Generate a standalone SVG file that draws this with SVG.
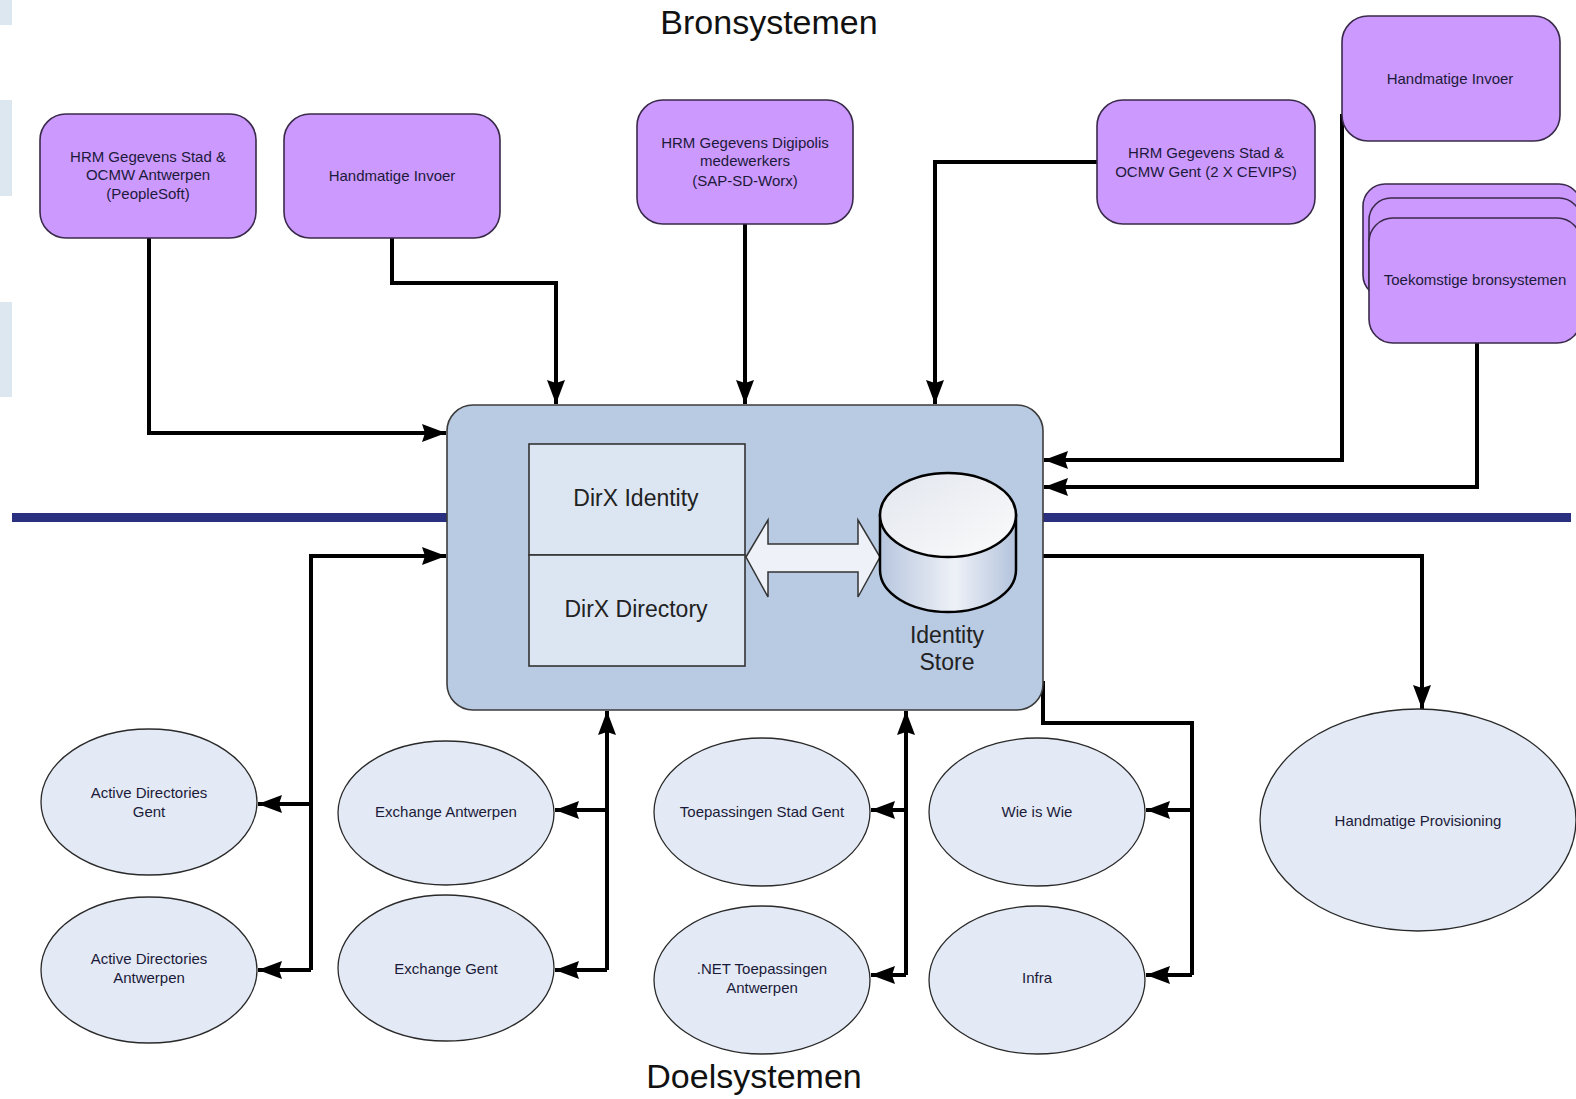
<svg xmlns="http://www.w3.org/2000/svg" width="1576" height="1099" viewBox="0 0 1576 1099">
<style>
.src{fill:#cc99ff;stroke:#3a2a4a;stroke-width:1.6}
.tgt{fill:#e3eaf5;stroke:#2a2a2a;stroke-width:1.3}
.lbl{font-family:"Liberation Sans",Arial,sans-serif;font-size:15px;fill:#1c1a3a;text-anchor:middle;dominant-baseline:central}
.big{font-family:"Liberation Sans",Arial,sans-serif;font-size:23px;fill:#222;text-anchor:middle;dominant-baseline:central}
.title{font-family:"Liberation Sans",Arial,sans-serif;font-size:34px;fill:#111;text-anchor:middle;dominant-baseline:central}
.conn{fill:none;stroke:#000;stroke-width:4;marker-end:url(#ah)}
.line{fill:none;stroke:#000;stroke-width:4}
</style>
<defs>
<marker id="ah" markerUnits="userSpaceOnUse" markerWidth="26" markerHeight="20" refX="24" refY="9" orient="auto">
<path d="M0,0 L24,9 L0,18 L3,9 z" fill="#000"/>
</marker>
<linearGradient id="cylBody" x1="0" y1="0" x2="1" y2="0">
<stop offset="0" stop-color="#b7c6de"/>
<stop offset="0.55" stop-color="#eef1f7"/>
<stop offset="1" stop-color="#b3c3dc"/>
</linearGradient>
<linearGradient id="cylTop" x1="0" y1="0" x2="1" y2="1">
<stop offset="0" stop-color="#e2e6ee"/>
<stop offset="1" stop-color="#fbfbfb"/>
</linearGradient>
</defs>
<rect width="1576" height="1099" fill="#ffffff"/>
<g id="deco">
<rect x="0" y="0" width="12" height="25" fill="#dde7f0"/>
<rect x="0" y="100" width="12" height="96" fill="#dde7f0"/>
<rect x="0" y="302" width="12" height="95" fill="#dde7f0"/>
<rect x="12" y="513" width="437" height="9" fill="#2b2f80"/>
<rect x="1041" y="513" width="530" height="9" fill="#2b2f80"/>
</g>
<text class="title" x="769" y="22">Bronsystemen</text>
<text class="title" x="754" y="1076">Doelsystemen</text>

<g id="connectors">
<path class="conn" d="M149,238 V433 H446"/>
<path class="conn" d="M392,238 V283 H556 V404"/>
<path class="conn" d="M745,224 V404"/>
<path class="conn" d="M1097,162 H935 V404"/>
<path class="conn" d="M1342,114 V460 H1044"/>
<path class="conn" d="M1477,343 V487 H1044"/>
<path class="conn" d="M311,970 V556 H446"/>
<path class="conn" d="M311,804 H258"/>
<path class="conn" d="M311,970 H258"/>
<path class="conn" d="M607,970 V711"/>
<path class="conn" d="M607,810 H555"/>
<path class="conn" d="M607,970 H555"/>
<path class="conn" d="M906,975 V711"/>
<path class="conn" d="M906,810 H871"/>
<path class="conn" d="M906,975 H871"/>
<path class="line" d="M1043,681 V723 H1192 V975"/>
<path class="conn" d="M1192,810 H1146"/>
<path class="conn" d="M1192,975 H1146"/>
<path class="conn" d="M1043,556 H1422 V709"/>
</g>

<g id="n-hrm-antwerpen">
<rect class="src" x="40" y="114" width="216" height="124" rx="26"/>
<text class="lbl" x="148" y="156">HRM Gegevens Stad &amp;</text>
<text class="lbl" x="148" y="174">OCMW Antwerpen</text>
<text class="lbl" x="148" y="193">(PeopleSoft)</text>
</g>
<g id="n-handmatige-invoer-1">
<rect class="src" x="284" y="114" width="216" height="124" rx="26"/>
<text class="lbl" x="392" y="175">Handmatige Invoer</text>
</g>
<g id="n-hrm-digipolis">
<rect class="src" x="637" y="100" width="216" height="124" rx="26"/>
<text class="lbl" x="745" y="142">HRM Gegevens Digipolis</text>
<text class="lbl" x="745" y="160">medewerkers</text>
<text class="lbl" x="745" y="180">(SAP-SD-Worx)</text>
</g>
<g id="n-hrm-gent">
<rect class="src" x="1097" y="100" width="218" height="124" rx="26"/>
<text class="lbl" x="1206" y="152">HRM Gegevens Stad &amp;</text>
<text class="lbl" x="1206" y="171">OCMW Gent (2 X CEVIPS)</text>
</g>
<g id="n-handmatige-invoer-2">
<rect class="src" x="1342" y="16" width="218" height="125" rx="26"/>
<text class="lbl" x="1450" y="78">Handmatige Invoer</text>
</g>
<g id="n-toekomstige">
<rect class="src" x="1363" y="184" width="218" height="113" rx="22"/>
<rect class="src" x="1369" y="198" width="212" height="110" rx="22"/>
<rect class="src" x="1369" y="218" width="212" height="125" rx="24"/>
<text class="lbl" x="1475" y="279">Toekomstige bronsystemen</text>
</g>

<g id="n-dirx">
<rect x="447" y="405" width="596" height="305" rx="26" fill="#b9cbe3" stroke="#3c3c3c" stroke-width="1.6"/>
<rect x="529" y="444" width="216" height="111" fill="#dce6f2" stroke="#333" stroke-width="1.6"/>
<rect x="529" y="555" width="216" height="111" fill="#dce6f2" stroke="#333" stroke-width="1.6"/>
<text class="big" x="636" y="498">DirX Identity</text>
<text class="big" x="636" y="609">DirX Directory</text>
<path d="M746,557 L768,520 L768,544 L858,544 L858,520 L880,557 L858,597 L858,572 L768,572 L768,597 z" fill="#eef2f8" stroke="#333" stroke-width="1.5"/>
<path d="M880,515 V570 A68,42 0 0 0 1016,570 V515 z" fill="url(#cylBody)" stroke="#000" stroke-width="2.5"/>
<ellipse cx="948" cy="515" rx="68" ry="42" fill="url(#cylTop)" stroke="#000" stroke-width="2.5"/>
<text class="big" x="947" y="635" font-size="22">Identity</text>
<text class="big" x="947" y="662" font-size="22">Store</text>
</g>

<g id="n-ad-gent">
<ellipse class="tgt" cx="149" cy="802" rx="108" ry="73"/>
<text class="lbl" x="149" y="792">Active Directories</text>
<text class="lbl" x="149" y="811">Gent</text>
</g>
<g id="n-ad-antwerpen">
<ellipse class="tgt" cx="149" cy="970" rx="108" ry="73"/>
<text class="lbl" x="149" y="958">Active Directories</text>
<text class="lbl" x="149" y="977">Antwerpen</text>
</g>
<g id="n-exchange-antwerpen">
<ellipse class="tgt" cx="446" cy="813" rx="108" ry="72"/>
<text class="lbl" x="446" y="811">Exchange Antwerpen</text>
</g>
<g id="n-exchange-gent">
<ellipse class="tgt" cx="446" cy="968" rx="108" ry="73"/>
<text class="lbl" x="446" y="968">Exchange Gent</text>
</g>
<g id="n-toepassingen-gent">
<ellipse class="tgt" cx="762" cy="812" rx="108" ry="74"/>
<text class="lbl" x="762" y="811">Toepassingen Stad Gent</text>
</g>
<g id="n-net-antwerpen">
<ellipse class="tgt" cx="762" cy="980" rx="108" ry="74"/>
<text class="lbl" x="762" y="968">.NET Toepassingen</text>
<text class="lbl" x="762" y="987">Antwerpen</text>
</g>
<g id="n-wie-is-wie">
<ellipse class="tgt" cx="1037" cy="812" rx="108" ry="74"/>
<text class="lbl" x="1037" y="811">Wie is Wie</text>
</g>
<g id="n-infra">
<ellipse class="tgt" cx="1037" cy="980" rx="108" ry="74"/>
<text class="lbl" x="1037" y="977">Infra</text>
</g>
<g id="n-handmatige-provisioning">
<ellipse class="tgt" cx="1418" cy="820" rx="158" ry="111"/>
<text class="lbl" x="1418" y="820">Handmatige Provisioning</text>
</g>
</svg>
